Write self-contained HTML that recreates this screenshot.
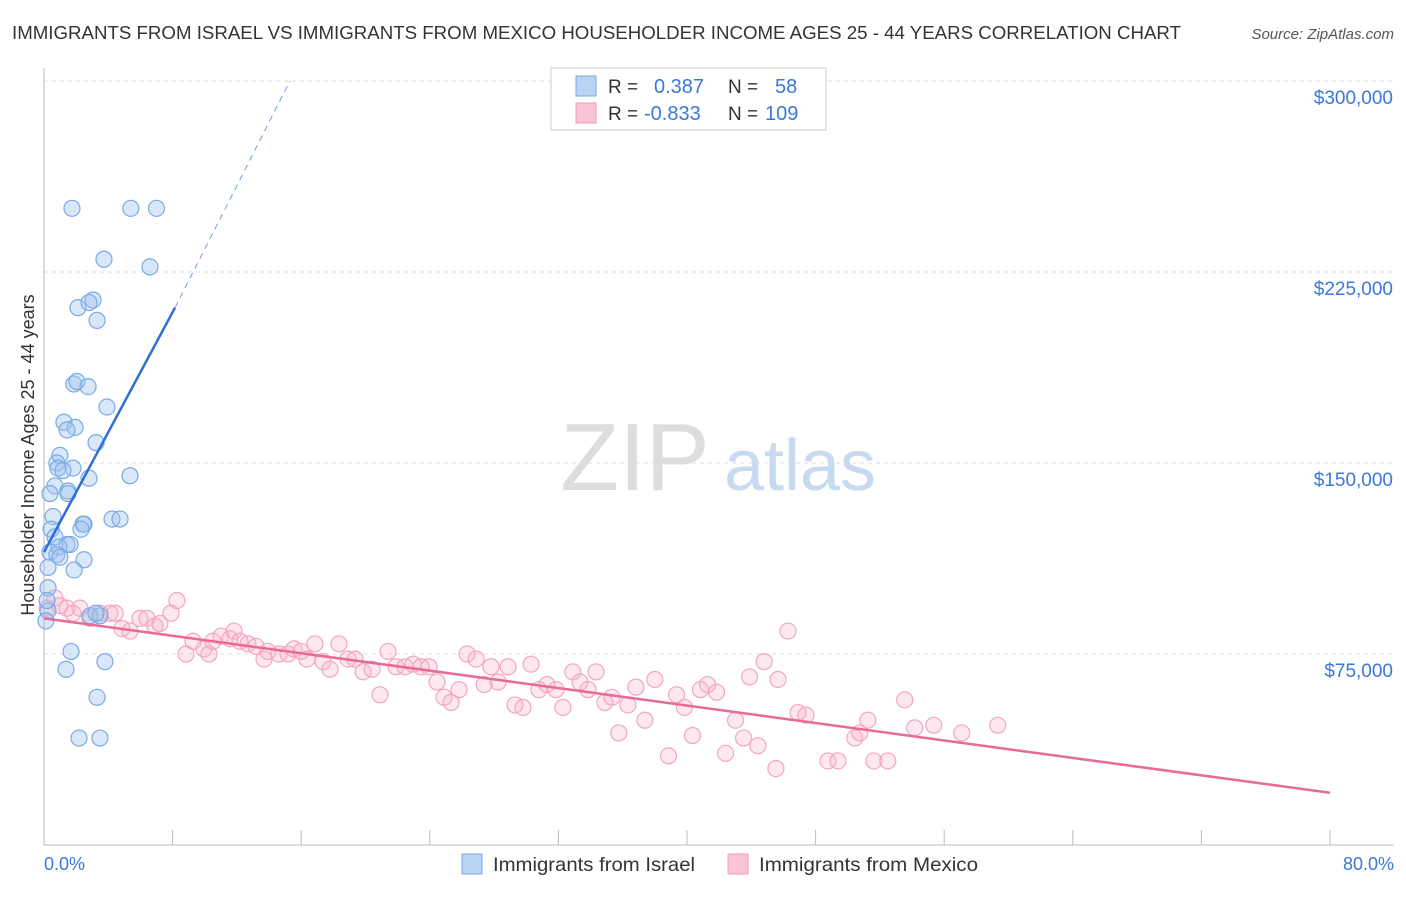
<!DOCTYPE html>
<html><head><meta charset="utf-8"><style>
body{margin:0;background:#fff;font-family:"Liberation Sans",sans-serif;}
svg text{font-family:"Liberation Sans",sans-serif;}
</style></head><body>
<svg id="c" width="1406" height="892">
<text x="12" y="39" font-size="18" fill="#333" textLength="1169" lengthAdjust="spacingAndGlyphs">IMMIGRANTS FROM ISRAEL VS IMMIGRANTS FROM MEXICO HOUSEHOLDER INCOME AGES 25 - 44 YEARS CORRELATION CHART</text>
<text x="1394" y="39" font-size="15" fill="#555" text-anchor="end" font-style="italic">Source: ZipAtlas.com</text>
<text x="34" y="455" font-size="18" fill="#333" text-anchor="middle" transform="rotate(-90 34 455)">Householder Income Ages 25 - 44 years</text>
<g><text x="635" y="490" font-size="96" fill="#ddd" font-family="Liberation Serif" text-anchor="middle">ZIP</text><text x="800" y="490" font-size="72" fill="#c8daf0" text-anchor="middle">atlas</text></g>
<g id="grid"></g><g id="pts"></g><g id="lines"></g>
<g>
<rect x="551" y="68" width="275" height="62" fill="#fff" stroke="#ccc"/>
<rect x="576" y="76" width="20" height="20" fill="#b8d3f3" stroke="#7aaae6"/>
<rect x="576" y="103" width="20" height="20" fill="#f9c4d3" stroke="#f09ab5"/>
<text x="608" y="93" font-size="19" fill="#333">R =</text><text x="654" y="93" font-size="20" fill="#3b78d8">0.387</text>
<text x="728" y="93" font-size="19" fill="#333">N =</text><text x="775" y="93" font-size="20" fill="#3b78d8">58</text>
<text x="608" y="120" font-size="19" fill="#333">R =</text><text x="644" y="120" font-size="20" fill="#3b78d8">-0.833</text>
<text x="728" y="120" font-size="19" fill="#333">N =</text><text x="765" y="120" font-size="20" fill="#3b78d8">109</text>
</g>
<g>
<rect x="462" y="854" width="20" height="20" fill="#b8d3f3" stroke="#7aaae6"/>
<text x="493" y="871" font-size="19.5" fill="#333" textLength="202" lengthAdjust="spacingAndGlyphs">Immigrants from Israel</text>
<rect x="728" y="854" width="20" height="20" fill="#f9c4d3" stroke="#f09ab5"/>
<text x="759" y="871" font-size="19.5" fill="#333" textLength="219" lengthAdjust="spacingAndGlyphs">Immigrants from Mexico</text>
</g>
<text x="44" y="870" font-size="18" fill="#3b78d8">0.0%</text>
<text x="1394" y="870" font-size="18" fill="#3b78d8" text-anchor="end">80.0%</text>
</svg>
<script>
const yTicks=[75000,150000,225000,300000];
const yTickLabels=["$75,000","$150,000","$225,000","$300,000"];
const israelX=[1.74,5.4,7.0,3.73,6.59,2.11,3.05,2.8,3.3,1.86,2.05,2.74,3.92,1.24,1.93,1.43,3.24,0.99,0.8,1.8,0.87,1.18,2.8,5.35,0.68,1.49,1.49,0.37,2.43,2.49,2.3,4.23,4.73,0.56,0.44,0.68,1.43,1.62,0.37,0.93,0.8,0.99,2.49,0.25,1.87,0.25,2.86,3.48,3.23,0.25,0.12,1.68,3.79,1.37,3.3,2.18,3.48,0.19];
const israelY=[250000,250000,250000,230000,227000,211000,214000,213000,206000,181000,182000,180000,172000,166000,164000,163000,158000,153000,150000,148000,148000,147000,144000,145000,141000,139000,138000,138000,126000,126000,124000,128000,128000,129000,124000,121000,118000,118000,115000,117000,114000,113000,112000,109000,108000,101000,90000,90000,91000,92000,88000,76000,72000,69000,58000,42000,42000,96000];
const mexicoX=[0.19,0.68,0.99,1.43,1.8,2.24,2.86,3.48,4.1,4.42,4.85,5.35,5.97,6.4,6.9,7.21,7.9,8.27,8.83,9.27,9.95,10.26,10.51,11.01,11.57,11.82,12.19,12.69,13.19,13.69,13.93,14.62,15.18,15.55,15.99,16.36,16.86,17.36,17.79,18.35,18.91,19.35,19.85,20.41,20.9,21.4,21.9,22.46,22.96,23.45,23.95,24.45,24.89,25.32,25.82,26.32,26.88,27.38,27.81,28.25,28.87,29.3,29.8,30.3,30.79,31.29,31.85,32.28,32.9,33.34,33.84,34.34,34.89,35.33,35.76,36.32,36.82,37.38,38.0,38.85,39.35,39.84,40.34,40.84,41.28,41.84,42.4,43.02,43.52,43.89,44.41,44.8,45.53,45.66,46.28,46.91,47.4,48.77,49.39,50.44,50.75,51.25,51.62,52.49,53.54,54.16,55.35,57.09,59.33];
const mexicoY=[93000,97000,94000,93000,91000,93000,89000,91000,91000,91000,85000,84000,89000,89000,86000,87000,91000,96000,75000,80000,77000,75000,80000,82000,81000,84000,80000,79000,78000,73000,76000,75000,75000,77000,76000,73000,79000,72000,69000,79000,73000,73000,68000,69000,59000,76000,70000,70000,71000,70000,70000,64000,58000,56000,61000,75000,73000,63000,70000,64000,70000,55000,54000,71000,61000,63000,61000,54000,68000,64000,61000,68000,56000,58000,44000,55000,62000,49000,65000,35000,59000,54000,43000,61000,63000,60000,36000,49000,42000,66000,39000,72000,30000,65000,84000,52000,51000,33000,33000,42000,44000,49000,33000,33000,57000,46000,47000,44000,47000];
const NS="http://www.w3.org/2000/svg";
const X=v=>44+v/80*1286, Y=v=>845-v/75000*191;
function mk(t,a,p){const e=document.createElementNS(NS,t);for(const k in a)e.setAttribute(k,a[k]);p.appendChild(e);return e;}
const g=document.getElementById('grid');
yTicks.forEach((t,i)=>{
 const l=mk('line',{x1:44,x2:1394,y1:Y(t),y2:Y(t),stroke:'#ddd','stroke-dasharray':'4,4'},g);
 
 
 const tx=mk('text',{x:1393,y:Y(t)+23,'font-size':19,fill:'#3b78d8','text-anchor':'end'},g);
 tx.textContent=yTickLabels[i];
 
 
});
mk('line',{x1:44,x2:44,y1:68,y2:845,stroke:'#bbb'},g);
mk('line',{x1:44,x2:1394,y1:845,y2:845,stroke:'#bbb'},g);
for(let i=0;i<=10;i++){const t=mk('line',{x1:X(i*8),x2:X(i*8),y1:830,y2:845,stroke:'#bbb'},g);
 
 }
const p=document.getElementById('pts');
mexicoX.forEach((v,i)=>{const c=mk('circle',{cx:X(v),cy:Y(mexicoY[i]),r:8,fill:'rgba(248,180,200,0.3)',stroke:'#f3a6c0','stroke-width':1.2},p);
 
 });
israelX.forEach((v,i)=>{const c=mk('circle',{cx:X(v),cy:Y(israelY[i]),r:8,fill:'rgba(160,196,240,0.4)',stroke:'#7aaae6','stroke-width':1.2},p);
 
 });
const L=document.getElementById('lines');
let e=mk('line',{x1:X(0),y1:Y(115000),x2:X(8.15),y2:Y(211000),stroke:'#2d6fd6','stroke-width':2.5},L);


e=mk('line',{x1:X(8.15),y1:Y(211000),x2:X(15.3),y2:Y(300000),stroke:'#6a9ee0','stroke-width':1,'stroke-dasharray':'6,5'},L);


e=mk('line',{x1:X(0),y1:Y(89000),x2:X(80),y2:Y(20500),stroke:'#e8699a','stroke-width':2.5},L);


</script>
</body></html>
